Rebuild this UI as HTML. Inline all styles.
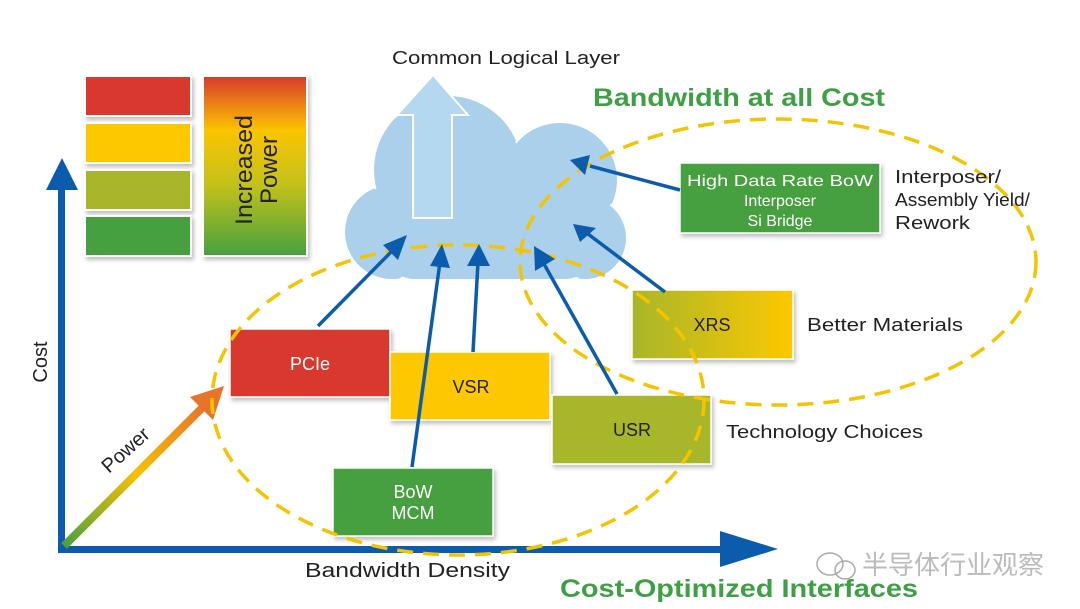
<!DOCTYPE html>
<html><head><meta charset="utf-8"><style>
body{margin:0;background:#fff}
svg{display:block}
text{font-family:"Liberation Sans","Noto Sans CJK SC",sans-serif}
</style></head><body>
<svg width="1080" height="609" viewBox="0 0 1080 609" xmlns="http://www.w3.org/2000/svg">
<defs>
<linearGradient id="pw" x1="0" y1="0" x2="0" y2="1">
<stop offset="0" stop-color="#d8382e"/><stop offset="0.3" stop-color="#fbc400"/><stop offset="0.6" stop-color="#c4c21a"/><stop offset="1" stop-color="#46a040"/>
</linearGradient>
<linearGradient id="xrs" x1="0" y1="0" x2="1" y2="0">
<stop offset="0" stop-color="#a8b62a"/><stop offset="1" stop-color="#fcc800"/>
</linearGradient>
<linearGradient id="parr" x1="0" y1="1" x2="1" y2="0">
<stop offset="0" stop-color="#4aa040"/><stop offset="0.5" stop-color="#f8c000"/><stop offset="1" stop-color="#e8702a"/>
</linearGradient>
<filter id="sh" x="-10%" y="-10%" width="130%" height="130%"><feDropShadow dx="2" dy="3" stdDeviation="2" flood-opacity="0.25"/></filter>
</defs>

<!-- legend -->
<g filter="url(#sh)" stroke="#fff" stroke-width="2">
<rect x="85" y="76" width="106" height="40" fill="#d8382e"/>
<rect x="85" y="123" width="106" height="40" fill="#fdc800"/>
<rect x="85" y="170" width="106" height="40" fill="#a8b62a"/>
<rect x="85" y="216" width="106" height="40" fill="#46a040"/>
<rect x="203" y="76" width="104" height="180" fill="url(#pw)"/>
</g>
<text transform="translate(254,170) rotate(-90)" text-anchor="middle" font-size="24" fill="#222"><tspan x="0" dy="-2" textLength="110" lengthAdjust="spacingAndGlyphs">Increased</tspan><tspan x="0" dy="25">Power</tspan></text>

<!-- cloud -->
<g fill="#aad0ec" stroke="#fff" stroke-width="2">
<circle cx="392" cy="232" r="48"/>
<circle cx="448" cy="170" r="75"/>
<circle cx="560" cy="180" r="58"/>
<circle cx="585" cy="238" r="42"/>
<rect x="385" y="200" width="210" height="80" rx="30"/>
</g>
<g fill="#aad0ec" stroke="none">
<circle cx="448" cy="170" r="73"/><circle cx="560" cy="180" r="56"/><circle cx="392" cy="232" r="46"/><circle cx="585" cy="238" r="40"/>
<rect x="387" y="202" width="206" height="76" rx="28"/>
</g>
<path d="M413,218 L413,115 L397,115 L433,75 L468,115 L452,115 L452,218 Z" fill="#b4d8f0" stroke="#fff" stroke-width="2"/>
<text x="392" y="64" font-size="18" fill="#222" textLength="228" lengthAdjust="spacingAndGlyphs">Common Logical Layer</text>

<!-- axes -->
<rect x="58" y="185" width="7" height="368" fill="#0b5cad"/>
<path d="M46,190 L62,158 L78,190 Z" fill="#0b5cad"/>
<rect x="58" y="546" width="670" height="7" fill="#0b5cad"/>
<path d="M720,531 L778,549 L720,567 Z" fill="#0b5cad"/>
<text transform="translate(47,362) rotate(-90)" text-anchor="middle" font-size="20" fill="#222">Cost</text>
<text x="305" y="577" font-size="20" fill="#222" textLength="205" lengthAdjust="spacingAndGlyphs">Bandwidth Density</text>

<!-- power arrow -->
<line x1="64" y1="546" x2="208" y2="402" stroke="url(#parr)" stroke-width="8"/>
<path d="M190,397 L224,386 L213,420 Z" fill="#e8742a"/>
<text transform="translate(130,455) rotate(-42)" text-anchor="middle" font-size="20" fill="#222">Power</text>

<!-- boxes -->
<g filter="url(#sh)" stroke="#fff" stroke-width="1.5">
<rect x="230" y="329" width="160" height="68" fill="#d8382e"/>
<rect x="390" y="352" width="160" height="68" fill="#fdc800"/>
<rect x="552" y="395" width="159" height="69" fill="#a8b62a"/>
<rect x="632" y="290" width="161" height="69" fill="url(#xrs)"/>
<rect x="333" y="468" width="160" height="68" fill="#46a040"/>
<rect x="680" y="163" width="200" height="70" fill="#46a040"/>
</g>
<text x="310" y="370" text-anchor="middle" font-size="18" fill="#fff">PCIe</text>
<text x="471" y="393" text-anchor="middle" font-size="18" fill="#222">VSR</text>
<text x="632" y="436" text-anchor="middle" font-size="18" fill="#222">USR</text>
<text x="712" y="331" text-anchor="middle" font-size="18" fill="#222">XRS</text>
<text x="413" y="498" text-anchor="middle" font-size="18" fill="#fff">BoW</text>
<text x="413" y="519" text-anchor="middle" font-size="18" fill="#fff">MCM</text>
<text x="780" y="186" text-anchor="middle" font-size="16" fill="#fff" textLength="186" lengthAdjust="spacingAndGlyphs">High Data Rate BoW</text>
<text x="780" y="206" text-anchor="middle" font-size="16" fill="#fff">Interposer</text>
<text x="780" y="226" text-anchor="middle" font-size="16" fill="#fff">Si Bridge</text>

<!-- ellipses -->
<g fill="none" stroke="#f5c400" stroke-width="3.5" stroke-dasharray="16,10">
<ellipse cx="458" cy="400" rx="246" ry="155"/>
<ellipse cx="778" cy="262" rx="258" ry="143"/>
</g>

<!-- blue arrows -->
<g stroke="#0b5cad" stroke-width="3.5" fill="#0b5cad">
<line x1="318" y1="326" x2="395" y2="248"/><path d="M383,245 L407,235 L398,260 Z" stroke="none"/>
<line x1="412" y1="467" x2="440" y2="262"/><path d="M430,266 L442,244 L450,268 Z" stroke="none"/>
<line x1="473" y1="352" x2="478" y2="262"/><path d="M467,266 L479,244 L490,266 Z" stroke="none"/>
<line x1="617" y1="394" x2="544" y2="264"/><path d="M535,271 L534,246 L555,259 Z" stroke="none"/>
<line x1="665" y1="292" x2="588" y2="234"/><path d="M580,242 L573,224 L596,228 Z" stroke="none"/>
<line x1="680" y1="190" x2="590" y2="166"/><path d="M585,175 L570,160 L590,155 Z" stroke="none"/>
</g>

<!-- side labels -->
<text x="895" y="183" font-size="18" fill="#222" textLength="106" lengthAdjust="spacingAndGlyphs">Interposer/</text>
<text x="895" y="206" font-size="18" fill="#222" textLength="135" lengthAdjust="spacingAndGlyphs">Assembly Yield/</text>
<text x="895" y="229" font-size="18" fill="#222" textLength="75" lengthAdjust="spacingAndGlyphs">Rework</text>
<text x="807" y="331" font-size="18" fill="#222" textLength="156" lengthAdjust="spacingAndGlyphs">Better Materials</text>
<text x="726" y="438" font-size="18" fill="#222" textLength="197" lengthAdjust="spacingAndGlyphs">Technology Choices</text>

<text x="593" y="106" font-size="25" font-weight="bold" fill="#3da044" textLength="292" lengthAdjust="spacingAndGlyphs">Bandwidth at all Cost</text>
<text x="560" y="597" font-size="25" font-weight="bold" fill="#3da044" textLength="358" lengthAdjust="spacingAndGlyphs">Cost-Optimized Interfaces</text>

<!-- watermark -->
<g fill="none" stroke="#aaa" stroke-width="1.5">
<ellipse cx="830" cy="564" rx="13" ry="11"/><ellipse cx="845" cy="570" rx="10" ry="9"/>
</g>
<text x="862" y="574" font-size="26" fill="#bbb" textLength="182" lengthAdjust="spacingAndGlyphs">半导体行业观察</text>
</svg>
</body></html>
